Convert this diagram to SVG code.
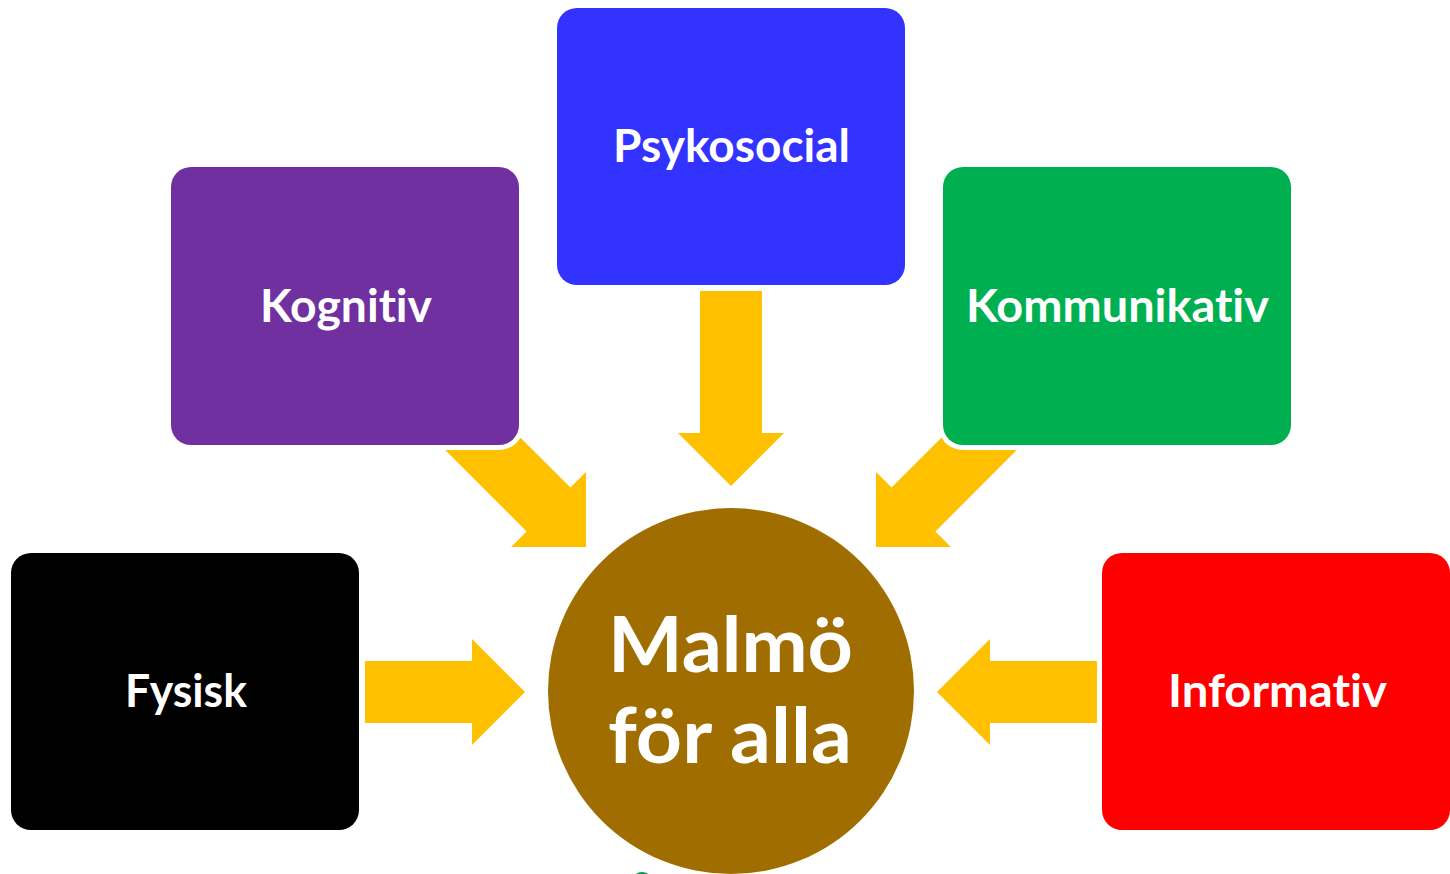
<svg xmlns="http://www.w3.org/2000/svg" width="1450" height="874" viewBox="0 0 1450 874">
  <defs>
    <style>
      .arrow { fill: #FFC000; }
      .halo { fill: #FFFFFF; }
      .lbl { font-family: Lato, "Open Sans", "Liberation Sans", sans-serif; font-weight: 700; fill: #FFFFFF; text-anchor: middle; font-variant-ligatures: none; font-feature-settings: "liga" 0, "clig" 0, "dlig" 0; }
      .box-lbl { font-size: 45px; }
      .hub-lbl { font-size: 76px; }
    </style>
    <polygon id="arrowLong" points="-195,-31 -53,-31 -53,-53 0,0 -53,53 -53,31 -195,31"/>
    <polygon id="arrowShort" points="-160,-31 -53,-31 -53,-53 0,0 -53,53 -53,31 -160,31"/>
  </defs>
  <rect width="1450" height="874" fill="#FFFFFF"/>

  <g id="connectors">
    <use href="#arrowLong" class="arrow" transform="translate(731,486) rotate(90)"/>
    <use href="#arrowLong" class="arrow" transform="translate(586,547) rotate(45)"/>
    <use href="#arrowLong" class="arrow" transform="translate(876,547) rotate(135)"/>
    <use href="#arrowShort" class="arrow" transform="translate(525,692)"/>
    <use href="#arrowShort" class="arrow" transform="translate(937,692) rotate(180)"/>
  </g>

  <g id="node-psykosocial">
    <rect class="halo" x="552" y="3" width="358" height="287" rx="25"/>
    <rect x="557" y="8" width="348" height="277" rx="20" fill="#3333FF"/>
    <text class="lbl box-lbl" x="731.5" y="162" textLength="237" lengthAdjust="spacingAndGlyphs">Psykosocial</text>
  </g>

  <g id="node-kognitiv">
    <rect class="halo" x="166" y="162" width="358" height="288" rx="25"/>
    <rect x="171" y="167" width="348" height="278" rx="20" fill="#7030A0"/>
    <text class="lbl box-lbl" x="346" y="322" textLength="172" lengthAdjust="spacingAndGlyphs">Kognitiv</text>
  </g>

  <g id="node-kommunikativ">
    <rect class="halo" x="938" y="162" width="358" height="288" rx="25"/>
    <rect x="943" y="167" width="348" height="278" rx="20" fill="#00B050"/>
    <text class="lbl box-lbl" x="1117.5" y="322" textLength="303" lengthAdjust="spacingAndGlyphs">Kommunikativ</text>
  </g>

  <g id="node-fysisk">
    <rect class="halo" x="6" y="548" width="358" height="287" rx="25"/>
    <rect x="11" y="553" width="348" height="277" rx="20" fill="#000000"/>
    <text class="lbl box-lbl" x="186" y="707" textLength="122" lengthAdjust="spacingAndGlyphs">Fysisk</text>
  </g>

  <g id="node-informativ">
    <rect class="halo" x="1097" y="548" width="358" height="287" rx="25"/>
    <rect x="1102" y="553" width="348" height="277" rx="20" fill="#FF0000"/>
    <text class="lbl box-lbl" x="1277.5" y="707" textLength="219" lengthAdjust="spacingAndGlyphs">Informativ</text>
  </g>

  <g id="node-malmo">
    <circle cx="731" cy="691" r="183" fill="#A06E00"/>
    <text class="lbl hub-lbl" x="730.5" y="672" textLength="245" lengthAdjust="spacingAndGlyphs">Malmö</text>
    <text class="lbl hub-lbl" x="730" y="763" textLength="244" lengthAdjust="spacingAndGlyphs">för alla</text>
  </g>

  <ellipse cx="642" cy="881" rx="10" ry="9" fill="#00A050"/>
</svg>
